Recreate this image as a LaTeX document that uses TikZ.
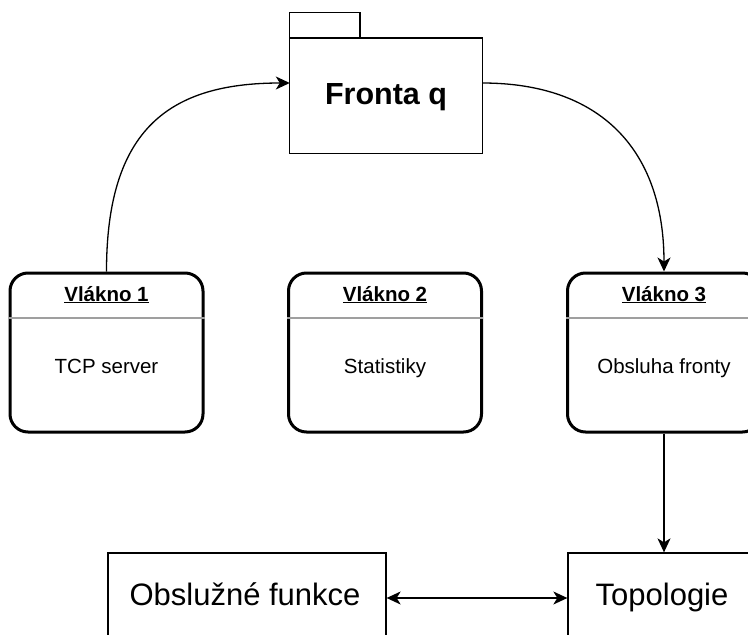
\documentclass[tikz,border=0pt]{standalone}
\usepackage{fontspec}
\setmainfont{Liberation Sans}
\usetikzlibrary{arrows.meta}

\tikzset{
  thin line/.style={line width=1.3pt},
  thread/.style={draw, line width=3pt, rounded corners=18pt,
    minimum width=193pt, minimum height=159pt, inner sep=0pt},
  plainbox/.style={draw, thin line, minimum width=278pt, minimum height=90pt, inner sep=0pt},
  bigtext/.style={font=\fontsize{31}{36}\selectfont, inner sep=0pt, anchor=base},
  head/.style={font=\fontsize{20.5}{24}\selectfont\bfseries, inner sep=0pt, anchor=base},
  body/.style={font=\fontsize{20.5}{24}\selectfont, inner sep=0pt, anchor=base},
  divider/.style={draw=gray!75, line width=1.6pt},
  arr/.style={thin line, -{Stealth[length=14pt, width=13pt, inset=4pt]}},
  dblarr/.style={thin line, {Stealth[length=14pt, width=13pt, inset=4pt]}-{Stealth[length=14pt, width=13pt, inset=4pt]}},
}

\begin{document}
\begin{tikzpicture}[x=1pt, y=-1pt]
  \useasboundingbox (0,0) rectangle (748,635);
  \fill[white] (0,0) rectangle (748,635);

  % queue drawn as a folder: outer extent includes the tab
  \node[minimum width=192pt, minimum height=140pt, inner sep=0pt] (fronta) at (386,83) {};
  \draw[thin line] (fronta.south west) rectangle (fronta.north east |- 0,38);
  \draw[thin line] (fronta.north west) rectangle (360,38);
  \node[font=\fontsize{30.5}{36}\selectfont\bfseries, inner sep=0pt, anchor=base] (frontatext) at (386,104) {Fronta q};

  % the three threads
  \foreach \name/\cx/\num/\txt in {v1/106.5/1/TCP server, v2/385/2/Statistiky, v3/664/3/Obsluha fronty} {
    \node[thread] (\name) at (\cx,352.5) {};
    \draw[divider] (\name.west |- 0,318) -- (\name.east |- 0,318);
    \node[head] (\name h) at (\cx,301) {\underline{Vlákno \num}};
    \node[body] (\name b) at (\cx,373) {\txt};
  }

  % lower modules
  \node[plainbox] (obsl) at (247,598) {};
  \node[bigtext] (obslt) at (245,605.5) {Obslužné funkce};
  \node[plainbox, minimum width=192pt] (topo) at (664,598) {};
  \node[bigtext] (topot) at (662,605.5) {Topologie};

  % connectors
  \draw[arr] (v1.north) .. controls +(0,-143) and +(-120,0) .. (fronta.west);
  \draw[arr] (fronta.east) .. controls +(118,0) and +(0,-122) .. (v3.north);
  \draw[arr] (v3.south) -- (topo.north);
  \draw[dblarr] (obsl.east) -- (topo.west);
\end{tikzpicture}
\end{document}
